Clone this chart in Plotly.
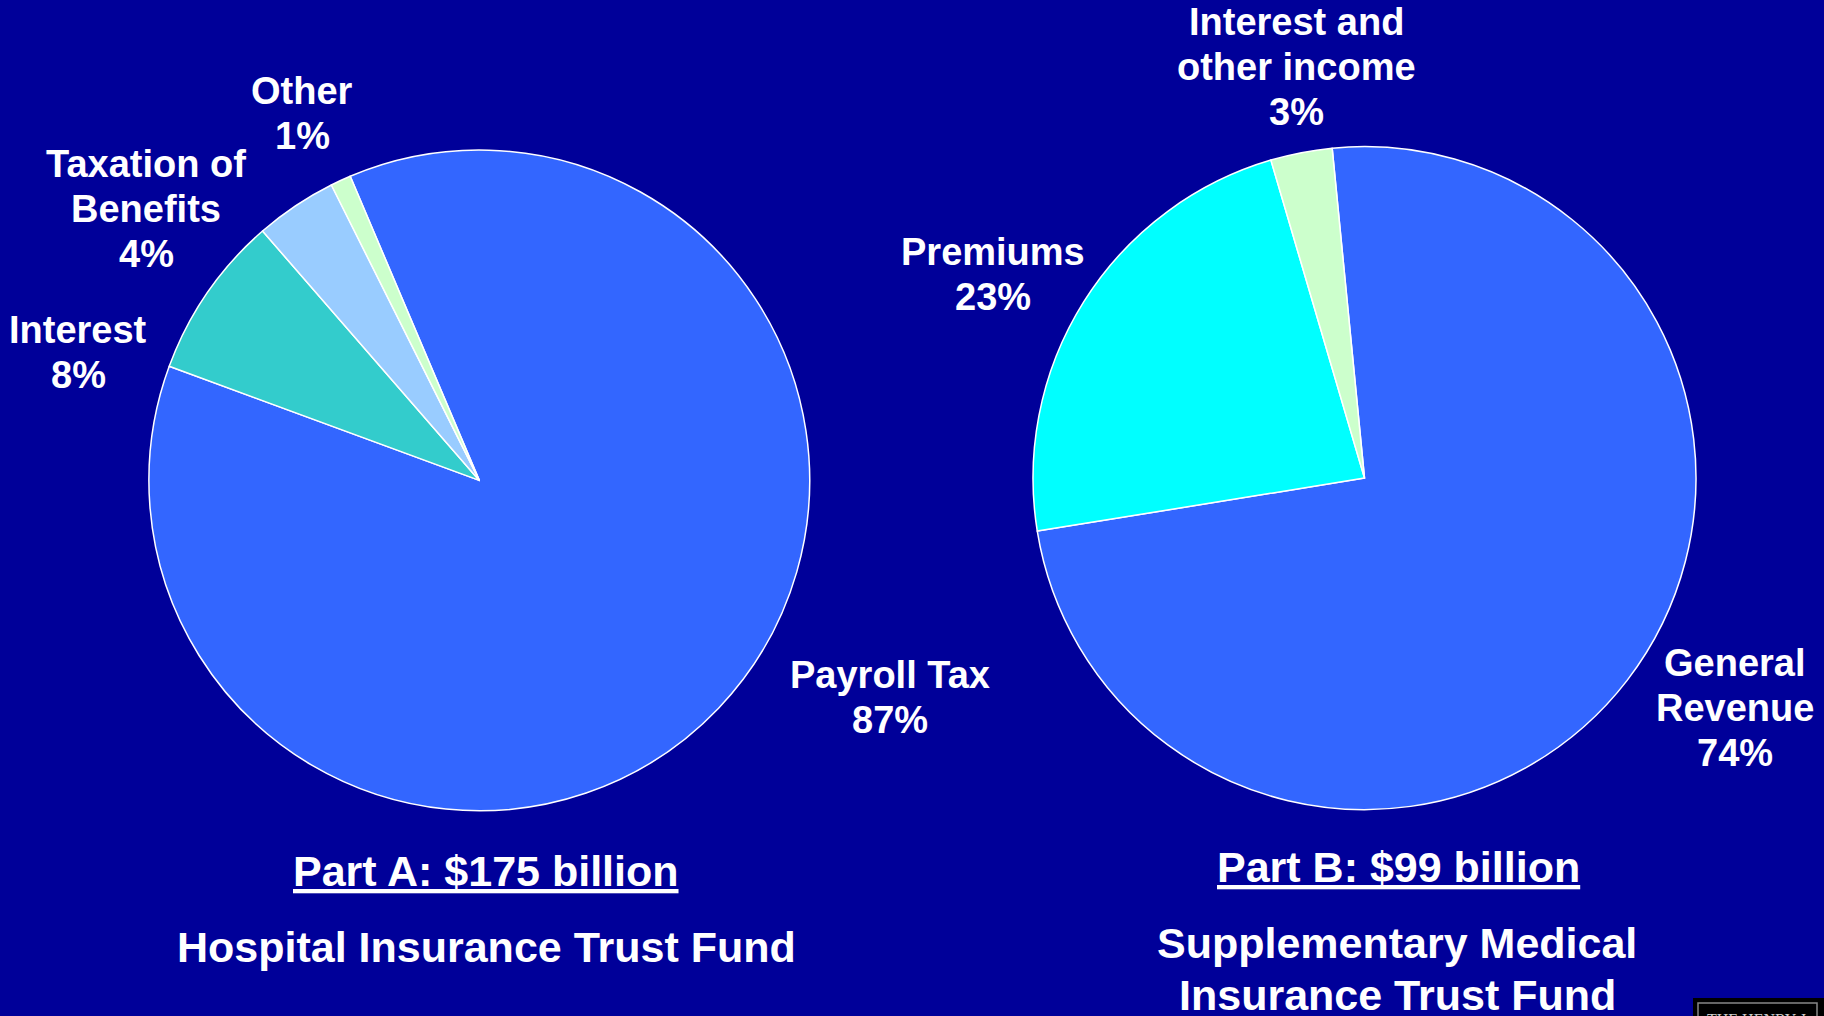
import plotly.graph_objects as go

W, H = 1824, 1016
BG = "#000099"
FONT = "Arial, 'Liberation Sans', sans-serif"

# ---- data ----
partA_labels = ["Payroll Tax", "Interest", "Taxation of Benefits", "Other"]
partA_values = [87, 8, 4, 1]
partA_colors = ["#3366FF", "#33CCCC", "#99CCFF", "#CCFFCC"]
partA_label_lines = [["Payroll Tax"], ["Interest"], ["Taxation of", "Benefits"], ["Other"]]

partB_labels = ["General Revenue", "Premiums", "Interest and other income"]
partB_values = [74, 23, 3]
partB_colors = ["#3366FF", "#00FFFF", "#CCFFCC"]
partB_label_lines = [["General", "Revenue"], ["Premiums"], ["Interest and", "other income"]]

titleA = "Part A: $175 billion"
subtitleA = ["Hospital Insurance Trust Fund"]
titleB = "Part B: $99 billion"
subtitleB = ["Supplementary Medical", "Insurance Trust Fund"]

# ---- layout helpers (pixel positions) ----
def px_x(x):
    return x / W

def px_y(y):
    return 1 - y / H

def domain(cx, cy, r):
    return dict(x=[px_x(cx - r), px_x(cx + r)], y=[px_y(cy + r), px_y(cy - r)])

fig = go.Figure()
fig.add_trace(go.Pie(
    labels=partA_labels, values=partA_values, sort=False, direction="clockwise",
    rotation=-23, marker=dict(colors=partA_colors, line=dict(color="white", width=1.5)),
    textinfo="none", hoverinfo="label+percent", showlegend=False,
    domain=domain(479.3, 480.4, 330.4),
))
fig.add_trace(go.Pie(
    labels=partB_labels, values=partB_values, sort=False, direction="clockwise",
    rotation=-5.6, marker=dict(colors=partB_colors, line=dict(color="white", width=1.5)),
    textinfo="none", hoverinfo="label+percent", showlegend=False,
    domain=domain(1364.5, 478.1, 331.5),
))

annotations = []

def add_line(text, x, y, size=38, underline=False):
    t = f"<u>{text}</u>" if underline else text
    annotations.append(dict(
        text=t, x=px_x(x), y=px_y(y), xref="paper", yref="paper",
        xanchor="center", yanchor="middle", showarrow=False,
        font=dict(family=FONT, size=size, color="white", weight="bold"),
    ))

LINE = 45
# slice label positions: (center x, first line mid y)
partA_label_pos = [(890, 675), (78, 330), (146, 164), (302, 91)]
partB_label_pos = [(1735, 663), (993, 252), (1296, 22)]

for lines, v, (x, y) in zip(partA_label_lines, partA_values, partA_label_pos):
    for i, ln in enumerate(lines + [f"{v}%"]):
        add_line(ln, x, y + i * LINE)
for lines, v, (x, y) in zip(partB_label_lines, partB_values, partB_label_pos):
    for i, ln in enumerate(lines + [f"{v}%"]):
        add_line(ln, x, y + i * LINE)

add_line(titleA, 486, 871, size=43, underline=True)
for i, ln in enumerate(subtitleA):
    add_line(ln, 486, 947 + i * LINE, size=43)
add_line(titleB, 1398, 867, size=43, underline=True)
for i, ln in enumerate(subtitleB):
    add_line(ln, 1397, 943 + i * 52, size=43)

# logo fragment bottom right
annotations.append(dict(
    text="THE HENRY J.", x=px_x(1758), y=px_y(1009), xref="paper", yref="paper",
    xanchor="center", yanchor="top", showarrow=False,
    font=dict(family="'Liberation Serif', serif", size=16, color="#cccccc"),
))

shapes = [
    dict(type="rect", xref="paper", yref="paper", x0=px_x(1693), x1=px_x(1824),
         y0=px_y(1030), y1=px_y(998), fillcolor="black", line=dict(width=0), layer="below"),
    dict(type="rect", xref="paper", yref="paper", x0=px_x(1698), x1=px_x(1817),
         y0=px_y(1030), y1=px_y(1003), fillcolor="rgba(0,0,0,0)",
         line=dict(color="#888888", width=1.5), layer="below"),
]

fig.update_layout(
    width=W, height=H, paper_bgcolor=BG, plot_bgcolor=BG,
    margin=dict(l=0, r=0, t=0, b=0),
    annotations=annotations, shapes=shapes, showlegend=False,
)

fig.write_html(
    "out.html",
    config={"displayModeBar": False},
    post_script="document.body.style.margin='0';document.body.style.overflow='hidden';"
                "document.body.style.background='" + BG + "';",
)
